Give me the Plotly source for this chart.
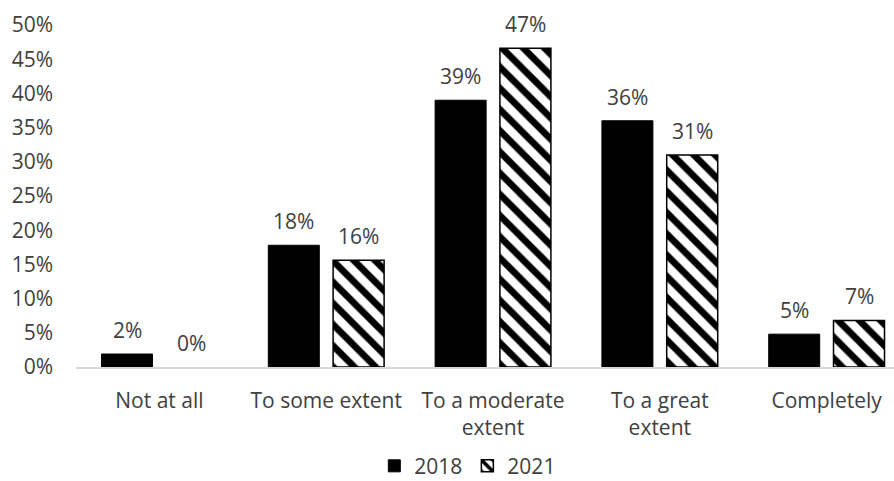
import plotly.graph_objects as go

categories = ["Not at all", "To some extent", "To a moderate<br>extent", "To a great<br>extent", "Completely"]
series_names = ["2018", "2021"]
values_2018 = [0.019, 0.178, 0.390, 0.360, 0.048]
values_2021 = [0.000, 0.156, 0.466, 0.310, 0.068]
y_tick_vals = [0, 0.05, 0.10, 0.15, 0.20, 0.25, 0.30, 0.35, 0.40, 0.45, 0.50]

FONT = "Open Sans"
TXT = "#404040"
BARGAP = 0.223
BARGROUPGAP = 0.213

fig = go.Figure()
fig.add_trace(go.Bar(
    name=series_names[0], x=list(range(len(categories))), y=values_2018,
    marker=dict(color="black", line=dict(color="black", width=1)),
))
fig.add_trace(go.Bar(
    name=series_names[1], x=list(range(len(categories))),
    y=[v if v > 0 else None for v in values_2021],  # a 0 bar draws nothing in the reference
    marker=dict(color="white", line=dict(color="black", width=1.5),
                pattern=dict(shape="\\", fgcolor="black", bgcolor="white",
                             size=15, solidity=0.45, fillmode="replace")),
))

slot = (1 - BARGAP) / 2
annotations = []
for series, sign in ((values_2018, -1), (values_2021, 1)):
    for i, v in enumerate(series):
        annotations.append(dict(
            x=i + sign * slot / 2, y=v, xref="x", yref="y",
            text=f"{round(v * 100):.0f}%", showarrow=False,
            yanchor="middle", yshift=24,
            font=dict(family=FONT, size=21, color=TXT),
        ))

fig.update_layout(
    width=894, height=481,
    margin=dict(l=76, r=0, t=25, b=114, autoexpand=False),
    paper_bgcolor="white", plot_bgcolor="white",
    barmode="group", bargap=BARGAP, bargroupgap=BARGROUPGAP,
    font=dict(family=FONT, size=21, color=TXT),
    showlegend=True,
    legend=dict(orientation="h", x=0.479, xanchor="center", y=-0.29, yanchor="middle",
                font=dict(family=FONT, size=21, color=TXT), itemwidth=30,
                traceorder="normal", tracegroupgap=0),
    annotations=annotations,
    xaxis=dict(
        tickmode="array", tickvals=list(range(len(categories))), ticktext=categories,
        range=[-0.5, 4.404], showline=True, linecolor="#d9d9d9", linewidth=1.5,
        showgrid=False, zeroline=False, ticks="", ticklabelstandoff=14,
        tickfont=dict(family=FONT, size=21, color=TXT), automargin=False,
    ),
    yaxis=dict(
        range=[0, 0.5], tickvals=y_tick_vals, tickformat=".0%",
        showgrid=False, zeroline=False, showline=False, ticks="",
        ticklabelstandoff=22, automargin=False,
        tickfont=dict(family=FONT, size=21, color=TXT),
    ),
)

fig.write_html("out.html")
